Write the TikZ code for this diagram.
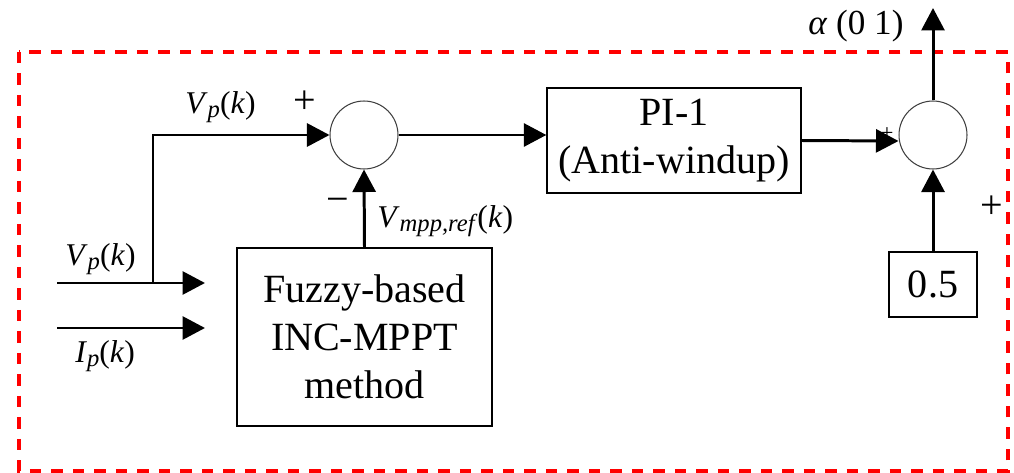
\documentclass[tikz,border=0pt]{standalone}
\usepackage{fontspec}
\setmainfont{LiberationSerif}[Extension=.ttf, UprightFont=*-Regular,
  ItalicFont=*-Italic, BoldFont=*-Bold, BoldItalicFont=*-BoldItalic]
\usetikzlibrary{arrows.meta}

% signal label: italic symbol, lowered italic subscript, upright brackets round k
\newcommand\sigk[2]{\textit{#1}\raisebox{-0.3ex}{\fontsize{14}{14}\selectfont\textit{#2}}(\textit{k})}

\tikzset{
  blk/.style={draw, line width=0.8pt, inner sep=0pt, align=center,
    font=\fontsize{22.8}{27.4}\selectfont},
  sumpt/.style={draw, draw=black!75, line width=0.6pt, circle, minimum size=1.36cm, inner sep=0pt},
  sig/.style={line width=1.7pt, -{Triangle[length=0.45cm, width=0.46cm]}},
  lbl/.style={inner sep=0pt, font=\fontsize{18}{18}\selectfont},
  sgn/.style={inner sep=0pt, font=\fontsize{22.8}{22.8}\selectfont},
  frame/.style={draw=red, line width=1.8pt, dash pattern=on 0.23cm off 0.2cm},
}

\begin{document}
\begin{tikzpicture}[x=0.02cm, y=-0.02cm]
  \useasboundingbox (0,0) rectangle (1014,473);

  % enclosing dashed frame
  \draw[frame] (19,52) rectangle (1008,471);

  % blocks
  \node[sumpt] (s1) at (364,135) {};
  \node[sumpt] (s2) at (933,135) {};
  \node[blk, minimum width=5.08cm, minimum height=2.1cm] (pi) at (674,140.5)
    {PI-1\\(Anti-windup)};
  \node[blk, minimum width=5.1cm, minimum height=3.56cm] (fz) at (364.5,337)
    {Fuzzy-based\\INC-MPPT\\method};
  \node[blk, minimum width=1.76cm, minimum height=1.3cm] (half) at (933,284.5) {0.5};

  % free ends of the wires
  \coordinate (inV) at (57,283);
  \coordinate (inI) at (57,328);
  \coordinate (endV) at (205,283);
  \coordinate (endI) at (205,328);
  \coordinate (fork) at (153,283);
  \coordinate (out) at (933,8);

  % inputs to the MPPT block
  \draw[sig] (inV) -- (endV);
  \draw[sig] (inI) -- (endI);

  % measured voltage to the first summing point
  \draw[sig] (fork) |- (s1.west);

  % reference from the MPPT block
  \draw[sig] (fz.north) -- (s1.south);

  % error to the PI controller
  \draw[sig] (s1.east) -- (s1.east -| pi.west);

  % small sign hidden under the arrow tip
  \node[inner sep=0pt, font=\fontsize{13}{13}\selectfont] (pl3) at (887,134) {+};

  % PI output and offset into the second summing point
  \draw[sig] (pi.east) -- ([yshift=-0.12cm]s2.west);
  \draw[sig] (half.north) -- (s2.south);

  % duty ratio output
  \draw[sig] (s2.north) -- (out);

  % labels
  \node[lbl, anchor=base west] (lvp1) at (185,113) {\sigk{V}{p}};
  \node[lbl, anchor=base west] (lvp2) at (65,265) {\sigk{V}{p}};
  \node[lbl, anchor=base west] (lip) at (75,362) {\sigk{I}{p}};
  \node[lbl, anchor=base west] (lvm) at (377,227) {\sigk{V}{mpp,ref}};
  \node[lbl, anchor=base west, font=\fontsize{20}{20}\selectfont] (lal) at (808,35)
    {\textit{α} (0 1)};

  % signs of the summing points
  \node[sgn] (pl1) at (305,102) {+};
  \node[sgn] (mi1) at (338,205) {−};
  \node[sgn] (pl2) at (992,207) {+};
\end{tikzpicture}
\end{document}
